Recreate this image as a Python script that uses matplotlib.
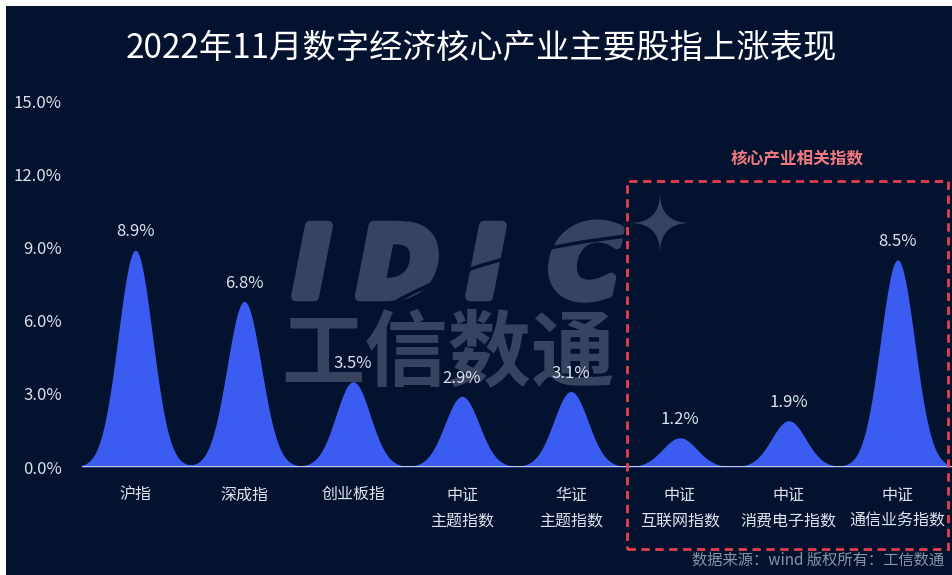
import numpy as np
import matplotlib
matplotlib.use("Agg")
import matplotlib.pyplot as plt
import matplotlib.patheffects as pe
from matplotlib.patches import Rectangle, PathPatch
from matplotlib.path import Path
from matplotlib.transforms import IdentityTransform

plt.rcParams['font.family'] = ['Noto Sans CJK SC', 'DejaVu Sans']

# ---- data ----
categories = ["沪指", "深成指", "创业板指", "中证\n主题指数", "华证\n主题指数",
              "中证\n互联网指数", "中证\n消费电子指数", "中证\n通信业务指数"]
values = [8.9, 6.8, 3.5, 2.9, 3.1, 1.2, 1.9, 8.5]
value_labels = ["8.9%", "6.8%", "3.5%", "2.9%", "3.1%", "1.2%", "1.9%", "8.5%"]
yticks = [0, 3, 6, 9, 12, 15]
ytick_labels = ["0.0%", "3.0%", "6.0%", "9.0%", "12.0%", "15.0%"]
title = "2022年11月数字经济核心产业主要股指上涨表现"
box_label = "核心产业相关指数"
source = "数据来源：wind 版权所有：工信数通"

BG = "#03122e"
BLUE = "#3a5cf0"
TXT = "#dfe3ee"
WM = "#37445f"

W, H = 952, 575
fig = plt.figure(figsize=(W / 100, H / 100), dpi=100, facecolor=BG)

# white frame strips (top / left) as in reference
fig.patches.append(Rectangle((0, 0), 6 / W, 1, transform=fig.transFigure,
                             facecolor="white", edgecolor="none", zorder=-10))
fig.patches.append(Rectangle((0, 1 - 6 / H), 1, 6 / H, transform=fig.transFigure,
                             facecolor="white", edgecolor="none", zorder=-10))

def fx(px):
    return px / W

def fy(py):
    return 1 - py / H

# watermark (behind chart)
idic_letters = [("I", 312), ("D", 398), ("I", 486), ("C", 585)]
for ch, xc in idic_letters:
    fig.text(fx(xc), fy(270), ch, ha="center", va="center", fontsize=70,
             fontweight="bold", style="oblique", family="DejaVu Sans",
             color=WM, zorder=-5,
             path_effects=[pe.withStroke(linewidth=7, foreground=WM)])
fig.text(fx(448), fy(356), "工信数通", ha="center", va="center", fontsize=60,
         fontweight="bold", color=WM, zorder=-5)

# swoosh cut through the letters
sw = Path([(385, H - 308), (480, H - 250), (645, H - 234)],
          [Path.MOVETO, Path.CURVE3, Path.CURVE3])
fig.patches.append(PathPatch(sw, transform=IdentityTransform(), facecolor="none",
                             edgecolor=BG, lw=2.5, zorder=-4))

# star
cx, cy = 660, H - 223
r = 30
verts = [(cx, cy + r), (cx, cy), (cx + r, cy), (cx, cy), (cx, cy - r),
         (cx, cy), (cx - r, cy), (cx, cy), (cx, cy + r)]
codes = [Path.MOVETO] + [Path.CURVE3, Path.CURVE3] * 4
star = PathPatch(Path(verts, codes), transform=IdentityTransform(),
                 facecolor=WM, edgecolor="none", zorder=-5)
fig.patches.append(star)

# axes
ax = fig.add_axes([fx(82), (H - 467) / H, 1 - fx(82), (467 - 101.5) / H])
ax.set_facecolor("none")
x = np.linspace(-0.6, 7.6, 2000)
sigma = 0.157
y = np.zeros_like(x)
for i, v in enumerate(values):
    y += v * np.exp(-0.5 * ((x - i) / sigma) ** 2)
ax.fill_between(x, 0, y, color=BLUE, linewidth=0, zorder=2)
ax.axhline(0, color="#c3c9dc", lw=2.2, zorder=3)

for i, (v, lab) in enumerate(zip(values, value_labels)):
    ax.annotate(lab, (i, v), xytext=(0, 7), textcoords="offset points",
                ha="center", va="bottom", fontsize=12, color=TXT, zorder=4)

ax.set_xlim(-0.49, 7.5)
ax.set_ylim(0, 15)
ax.set_yticks(yticks)
ax.set_yticklabels(ytick_labels)
ax.set_xticks(range(len(categories)))
ax.set_xticklabels(categories, linespacing=1.7)
ax.tick_params(axis="y", length=0, pad=14.5, labelsize=12, labelcolor=TXT)
ax.tick_params(axis="x", length=0, pad=14, labelsize=11.5, labelcolor=TXT)
for s in ax.spines.values():
    s.set_visible(False)

# title
fig.text(fx(481), fy(48), title, ha="center", va="center", fontsize=24,
         color="white")

# dashed box
fig.patches.append(Rectangle((fx(627), fy(549)), fx(948 - 627), (549 - 181) / H,
                             transform=fig.transFigure, facecolor="none",
                             edgecolor="#e8404f", lw=2, linestyle=(0, (3, 2)),
                             zorder=5))
fig.text(fx(797), fy(158), box_label, ha="center", va="center", fontsize=12,
         fontweight="bold", color="#f07a80")

# source
fig.text(fx(944), fy(560), source, ha="right", va="center", fontsize=11,
         color="#8a93a8")

fig.savefig("out.png", dpi=100, facecolor=BG)
